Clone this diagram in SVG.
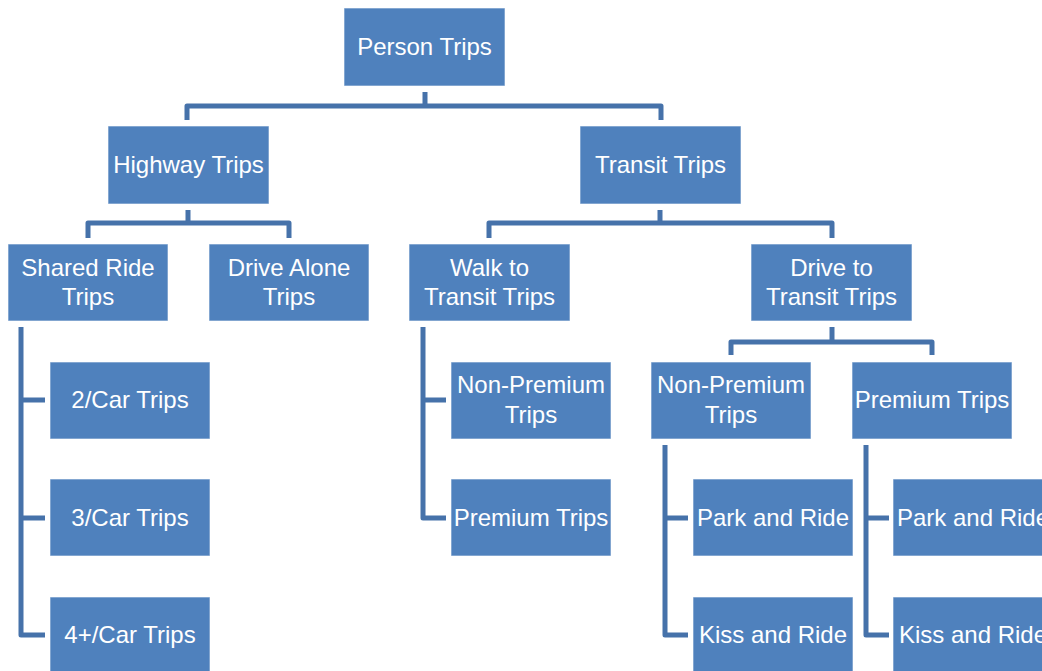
<svg xmlns="http://www.w3.org/2000/svg" width="1042" height="671" viewBox="0 0 1042 671">
<style>
.box{fill:#4F81BD;stroke:#ffffff;stroke-opacity:0.6;stroke-width:1}
.t{font-family:"Liberation Sans",Arial,sans-serif;font-size:24px;fill:#ffffff;text-anchor:middle}
.c{fill:none;stroke:#4672AA;stroke-width:5;stroke-linejoin:round}
</style>
<rect width="1042" height="671" fill="#ffffff"/>
<g id="connectors">
<path class="c" d="M425,92 V106 M187,120 V106 H661 V120"/>
<path class="c" d="M188,210 V223 M88,238 V223 H289 V238"/>
<path class="c" d="M660,210 V223 M489,238 V223 H832 V238"/>
<path class="c" d="M832,327 V342 M731,355 V342 H932 V355"/>
<path class="c" d="M21,327 V635 H45 M21,400 H45 M21,518 H45"/>
<path class="c" d="M423,327 V518 H446 M423,400 H446"/>
<path class="c" d="M665,445 V635 H688 M665,518 H688"/>
<path class="c" d="M866,445 V635 H889 M866,518 H889"/>
</g>
<g id="person"><rect class="box" x="344" y="8" width="161" height="78"/><text class="t" x="424.5" y="55">Person Trips</text></g>
<g id="highway"><rect class="box" x="108" y="126" width="161" height="78"/><text class="t" x="188.5" y="173">Highway Trips</text></g>
<g id="transit"><rect class="box" x="580" y="126" width="161" height="78"/><text class="t" x="660.5" y="173">Transit Trips</text></g>
<g id="shared"><rect class="box" x="8" y="244" width="160" height="77"/><text class="t" x="88" y="276">Shared Ride</text><text class="t" x="88" y="305">Trips</text></g>
<g id="drivealone"><rect class="box" x="209" y="244" width="160" height="77"/><text class="t" x="289" y="276">Drive Alone</text><text class="t" x="289" y="305">Trips</text></g>
<g id="walk"><rect class="box" x="409" y="244" width="161" height="77"/><text class="t" x="489.5" y="276">Walk to</text><text class="t" x="489.5" y="305">Transit Trips</text></g>
<g id="drive"><rect class="box" x="751" y="244" width="161" height="77"/><text class="t" x="831.5" y="276">Drive to</text><text class="t" x="831.5" y="305">Transit Trips</text></g>
<g id="car2"><rect class="box" x="50" y="362" width="160" height="77"/><text class="t" x="130" y="408">2/Car Trips</text></g>
<g id="car3"><rect class="box" x="50" y="479" width="160" height="77"/><text class="t" x="130" y="526">3/Car Trips</text></g>
<g id="car4"><rect class="box" x="50" y="597" width="160" height="77"/><text class="t" x="130" y="643">4+/Car Trips</text></g>
<g id="wnonprem"><rect class="box" x="451" y="362" width="160" height="77"/><text class="t" x="531" y="393">Non-Premium</text><text class="t" x="531" y="423">Trips</text></g>
<g id="wprem"><rect class="box" x="451" y="479" width="160" height="77"/><text class="t" x="531" y="526">Premium Trips</text></g>
<g id="dnonprem"><rect class="box" x="651" y="362" width="160" height="77"/><text class="t" x="731" y="393">Non-Premium</text><text class="t" x="731" y="423">Trips</text></g>
<g id="dprem"><rect class="box" x="852" y="362" width="160" height="77"/><text class="t" x="932" y="408">Premium Trips</text></g>
<g id="npark"><rect class="box" x="693" y="479" width="160" height="77"/><text class="t" x="773" y="526">Park and Ride</text></g>
<g id="nkiss"><rect class="box" x="693" y="597" width="160" height="77"/><text class="t" x="773" y="643">Kiss and Ride</text></g>
<g id="ppark"><rect class="box" x="893" y="479" width="160" height="77"/><text class="t" x="973" y="526">Park and Ride</text></g>
<g id="pkiss"><rect class="box" x="893" y="597" width="160" height="77"/><text class="t" x="973" y="643">Kiss and Ride</text></g>
</svg>
